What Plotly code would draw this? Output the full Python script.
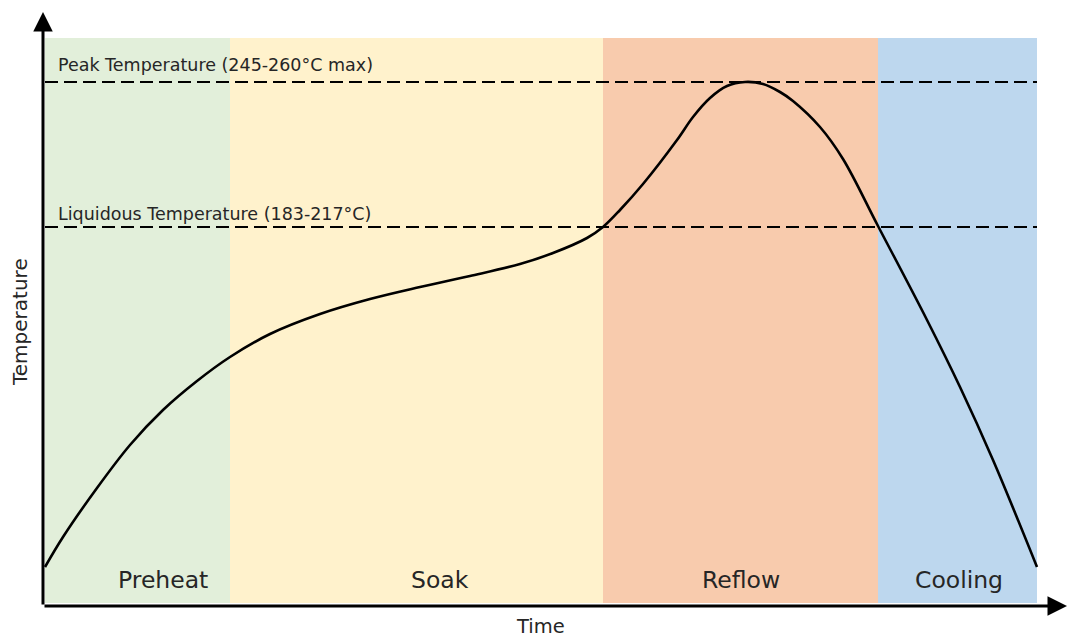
import plotly.graph_objects as go

# ---- data (time / temperature in arbitrary chart units) ----
phase_names = ["Preheat", "Soak", "Reflow", "Cooling"]
phase_edges = [2, 187, 560, 835, 994]
phase_colors = ["#E2EFDA", "#FFF2CC", "#F8CBAD", "#BDD7EE"]
phase_label_t = [120, 397, 698, 916]
band_top = 568
band_bottom = 3

profile_t = [2, 20, 54, 87, 120, 154, 187, 227, 277, 327, 377, 427, 477, 510, 544,
             560, 577, 600, 634, 650, 667, 684, 702, 720, 737, 750, 777, 800, 835,
             884, 917, 950, 994]
profile_T = [39, 69, 118, 161, 196, 225, 249, 272, 292, 307, 319, 330, 342, 353, 368,
             379, 396, 422, 466, 489, 508, 520, 524, 522, 514, 505, 479, 447, 380,
             286, 219, 146, 39]

peak_level = 524
liquidous_level = 379
line_labels = ["Peak Temperature (245-260°C max)", "Liquidous Temperature (183-217°C)"]
line_levels = [peak_level, liquidous_level]
line_label_T = [541, 392]

FONT = "DejaVu Sans"
TXT = "#262626"

fig = go.Figure()

# phase bands
for i, name in enumerate(phase_names):
    fig.add_shape(type="rect", x0=phase_edges[i], x1=phase_edges[i + 1],
                  y0=band_bottom, y1=band_top, fillcolor=phase_colors[i],
                  line_width=0, layer="below")
    fig.add_annotation(x=phase_label_t[i], y=26, text=name, showarrow=False,
                       font=dict(family=FONT, size=23.5, color=TXT),
                       xanchor="center", yanchor="middle")

# reference dashed lines
for lvl, lab, ty in zip(line_levels, line_labels, line_label_T):
    fig.add_trace(go.Scatter(x=[phase_edges[0], phase_edges[-1]], y=[lvl, lvl],
                             mode="lines", line=dict(color="black", width=2, dash="13px,6px"),
                             hoverinfo="skip", showlegend=False))
    fig.add_annotation(x=13, y=ty, text=lab, showarrow=False,
                       font=dict(family=FONT, size=17.5, color=TXT),
                       xanchor="left", yanchor="middle")

# profile curve
fig.add_trace(go.Scatter(x=profile_t, y=profile_T, mode="lines",
                         line=dict(color="black", width=2.6, shape="spline", smoothing=1.0),
                         showlegend=False, hoverinfo="skip"))

# axes with arrows
fig.add_annotation(x=0, y=594, ax=0, ay=0, xref="x", yref="y", axref="x", ayref="y",
                   showarrow=True, arrowhead=2, arrowsize=1.3, arrowwidth=3,
                   arrowcolor="black", text="")
fig.add_annotation(x=1024, y=0, ax=0, ay=0, xref="x", yref="y", axref="x", ayref="y",
                   showarrow=True, arrowhead=2, arrowsize=1.3, arrowwidth=3,
                   arrowcolor="black", text="")

# axis titles
fig.add_annotation(x=497, y=-34, text="Time", showarrow=False,
                   font=dict(family=FONT, size=19.5, color=TXT),
                   xanchor="center", yanchor="bottom")
fig.add_annotation(x=-23, y=284, text="Temperature", showarrow=False, textangle=-90,
                   font=dict(family=FONT, size=20, color=TXT),
                   xanchor="center", yanchor="middle")

fig.update_layout(
    width=1069, height=640,
    margin=dict(l=0, r=0, t=0, b=0),
    paper_bgcolor="white", plot_bgcolor="white",
    xaxis=dict(range=[-43, 1026], visible=False, fixedrange=True),
    yaxis=dict(range=[-34, 606], visible=False, fixedrange=True),
    showlegend=False,
)

fig.write_html("out.html", config={"displayModeBar": False},
               post_script="document.body.style.margin='0';")
